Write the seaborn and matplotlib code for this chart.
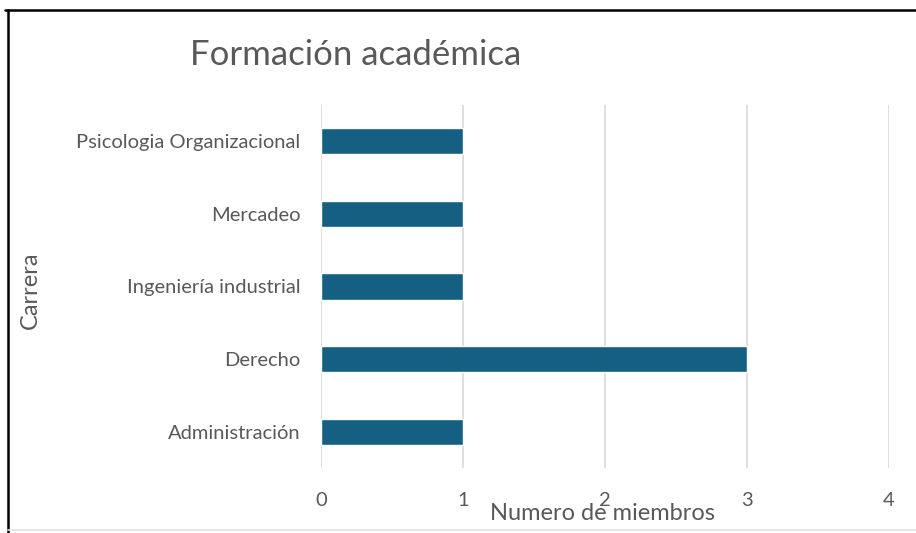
import matplotlib
matplotlib.use("Agg")
import matplotlib.pyplot as plt
from matplotlib.lines import Line2D
import seaborn as sns
import pandas as pd

# datos del gráfico
carreras = ["Psicologia Organizacional", "Mercadeo", "Ingeniería industrial",
            "Derecho", "Administración"]
miembros = [1, 1, 1, 3, 1]
x_ticks = [0, 1, 2, 3, 4]

sns.set_theme(style="white")
plt.rcParams['font.family'] = ['Lato', 'DejaVu Sans']

W, H = 916, 533
fig = plt.figure(figsize=(W / 100, H / 100), dpi=100)
ax = fig.add_axes([321 / W, 1 - 468 / H, (889 - 321) / W, (468 - 105) / H])

df = pd.DataFrame({"carrera": carreras, "miembros": miembros})
sns.barplot(data=df, x="miembros", y="carrera", orient="h", color="#156082",
            saturation=1, width=0.36, ax=ax)

gris = "#595959"
ax.set_xlim(0, 4)
ax.set_ylim(4.5, -0.5)
ax.set_xticks(x_ticks)
ax.grid(axis="x", color="#D9D9D9", linewidth=1.2)
ax.set_axisbelow(True)
for s in ax.spines.values():
    s.set_visible(False)
ax.tick_params(axis="both", length=0, colors=gris, labelsize=14.5)
ax.tick_params(axis="x", pad=17)
ax.tick_params(axis="y", pad=15)
ax.set_xlabel("")
ax.set_ylabel("")

fig.text(190 / W, 1 - 55 / H, "Formación académica", fontsize=25, color=gris,
         ha="left", va="center")
# en el original el título del eje se monta sobre el "2"
fig.text(603 / W, 1 - 514 / H, "Numero de miembros", fontsize=17, color=gris,
         ha="center", va="center")
fig.text(30 / W, 1 - 290 / H, "Carrera", fontsize=17, color=gris,
         ha="center", va="center", rotation=90)

# marco
fig.add_artist(Line2D([5 / W, 1], [1 - 10 / H, 1 - 10 / H], color="black",
                      linewidth=1.8, transform=fig.transFigure))
fig.add_artist(Line2D([8 / W, 8 / W], [1 - 10 / H, 0], color="black",
                      linewidth=1.8, transform=fig.transFigure))
fig.add_artist(Line2D([8 / W, 1], [1 - 530 / H, 1 - 530 / H], color="#E0E0E0",
                      linewidth=1.2, transform=fig.transFigure))

fig.savefig("out.png", dpi=100)
